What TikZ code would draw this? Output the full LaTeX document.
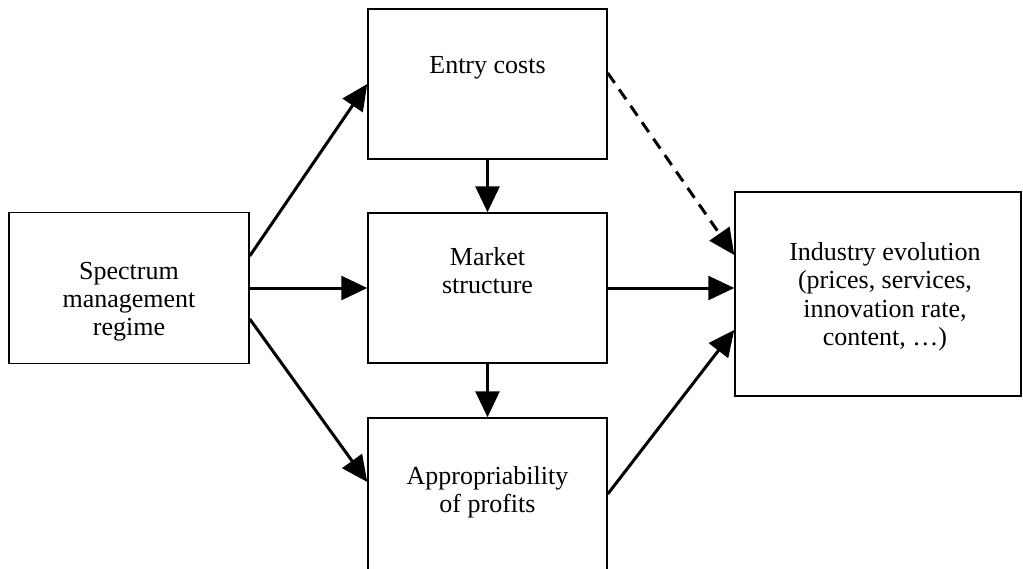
\documentclass[tikz,border=0pt]{standalone}
\usepackage{fontspec}
\setmainfont{Liberation Serif}
\usetikzlibrary{arrows.meta,positioning}
\tikzstyle{block} = [rectangle, draw, line width=1.5pt, minimum width=239pt,
minimum height=150pt, inner sep=0pt]
\tikzstyle{caption} = [align=center, inner sep=0pt,
font=\fontsize{26}{28.3}\selectfont]
\tikzstyle{line} = [draw, line width=3pt, -{Triangle[length=26pt,width=24pt]}]
\tikzstyle{dline} = [line, dash pattern=on 12pt off 8pt]

\begin{document}
\begin{tikzpicture}[x=1pt, y=-1pt, node distance=49pt]
\useasboundingbox (0,0) rectangle (1023,568);

% Place nodes
\node [block, minimum width=240pt, minimum height=151pt] (regime) at (129,288) {};
\node [block] (entry) at (487.5,84) {};
\node [block] (market) at (487.5,288) {};
\node [block, minimum height=152pt] (profits) at (487.5,494) {};
\node [block, minimum width=286pt, minimum height=204pt] (industry) at (878,294) {};
% Texts inside the boxes
\node [caption, below=50pt of regime.north] (regimetext) {Spectrum\\management\\regime};
\node [caption, below=48pt of entry.north] (entrytext) {Entry costs};
\node [caption, below=35pt of market.north] (markettext) {Market\\structure};
\node [caption, below=of profits.north] (profitstext) {Appropriability\\of profits};
\node [caption, below=51pt of industry.north, xshift=7pt] (industrytext)
{Industry evolution\\(prices, services,\\innovation rate,\\content, …)};
% Draw edges
\path [line] ([yshift=32pt]regime.east) -- (entry.west);
\path [line] (regime.east) -- (regime.east -| market.west);
\path [line] ([yshift=-31pt]regime.east) -- ([yshift=12pt]profits.west);
\path [line] (entry.south) -- (market.north);
\path [line] (market.south) -- (profits.north);
\path [line] (market.east) -- (market.east -| industry.west);
\path [dline] ([yshift=11pt]entry.east) -- ([yshift=39pt]industry.west);
\path [line] (profits.east) -- ([yshift=-36pt]industry.west);
\end{tikzpicture}
\end{document}
